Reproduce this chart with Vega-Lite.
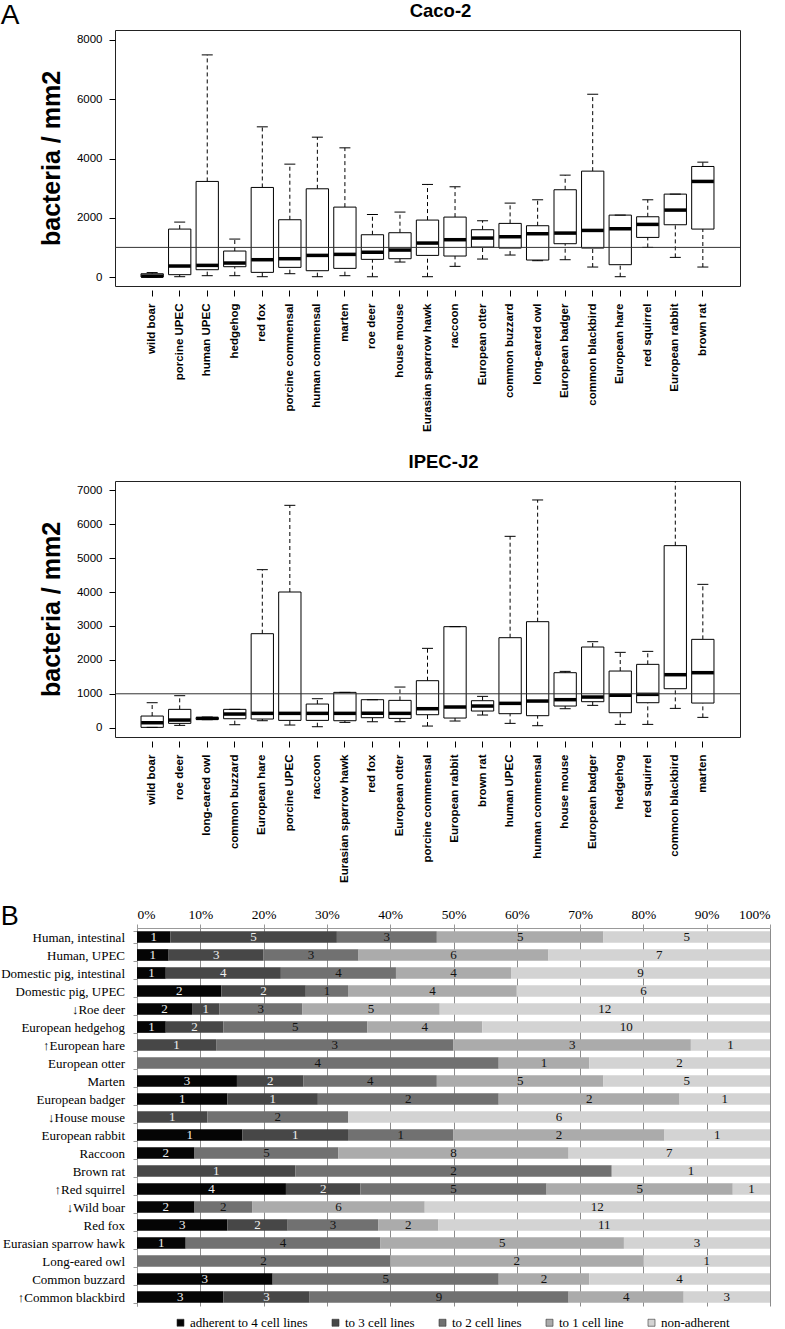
{
  "$schema": "https://vega.github.io/schema/vega-lite/v6.json",
  "padding": {"left": 0, "top": 1, "right": 0, "bottom": 0},
  "background": "white",
  "title": {"text": "A", "anchor": "start", "frame": "bounds", "fontSize": 28, "fontWeight": "normal", "offset": -29, "font": "Liberation Sans", "color": "black"},
  "datasets": {
    "caco": [
      {"g": "wild boar", "lo": 0, "q1": 0, "med": 30, "q3": 110, "hi": 150},
      {"g": "porcine UPEC", "lo": 11, "q1": 79, "med": 371, "q3": 1618, "hi": 1854},
      {"g": "human UPEC", "lo": 45, "q1": 247, "med": 393, "q3": 3226, "hi": 7497},
      {"g": "hedgehog", "lo": 45, "q1": 348, "med": 472, "q3": 877, "hi": 1281},
      {"g": "red fox", "lo": 11, "q1": 157, "med": 584, "q3": 3023, "hi": 5069},
      {"g": "porcine commensal", "lo": 112, "q1": 326, "med": 618, "q3": 1933, "hi": 3810},
      {"g": "human commensal", "lo": 11, "q1": 213, "med": 730, "q3": 2978, "hi": 4720},
      {"g": "marten", "lo": 45, "q1": 292, "med": 764, "q3": 2360, "hi": 4360},
      {"g": "roe deer", "lo": 11, "q1": 596, "med": 832, "q3": 1427, "hi": 2113},
      {"g": "house mouse", "lo": 506, "q1": 618, "med": 910, "q3": 1495, "hi": 2192},
      {"g": "Eurasian sparrow hawk", "lo": 11, "q1": 730, "med": 1146, "q3": 1922, "hi": 3125},
      {"g": "raccoon", "lo": 360, "q1": 708, "med": 1259, "q3": 2023, "hi": 3046},
      {"g": "European otter", "lo": 607, "q1": 1011, "med": 1315, "q3": 1596, "hi": 1899},
      {"g": "common buzzard", "lo": 742, "q1": 978, "med": 1360, "q3": 1810, "hi": 2495},
      {"g": "long-eared owl", "lo": 551, "q1": 573, "med": 1461, "q3": 1731, "hi": 2607},
      {"g": "European badger", "lo": 584, "q1": 1124, "med": 1483, "q3": 2945, "hi": 3439},
      {"g": "common blackbird", "lo": 337, "q1": 978, "med": 1573, "q3": 3574, "hi": 6169},
      {"g": "European hare", "lo": 11, "q1": 416, "med": 1630, "q3": 2090, "hi": 2090},
      {"g": "red squirrel", "lo": 1000, "q1": 1337, "med": 1776, "q3": 2034, "hi": 2607},
      {"g": "European rabbit", "lo": 663, "q1": 1764, "med": 2259, "q3": 2798, "hi": 2798},
      {"g": "brown rat", "lo": 337, "q1": 1618, "med": 3226, "q3": 3731, "hi": 3877}
    ],
    "ipec": [
      {"g": "wild boar", "lo": 10, "q1": 10, "med": 147, "q3": 344, "hi": 737},
      {"g": "roe deer", "lo": 69, "q1": 128, "med": 226, "q3": 541, "hi": 944},
      {"g": "long-eared owl", "lo": 236, "q1": 245, "med": 275, "q3": 300, "hi": 315},
      {"g": "common buzzard", "lo": 88, "q1": 265, "med": 403, "q3": 541, "hi": 541},
      {"g": "European hare", "lo": 206, "q1": 256, "med": 423, "q3": 2772, "hi": 4660},
      {"g": "porcine UPEC", "lo": 79, "q1": 216, "med": 423, "q3": 4001, "hi": 6557},
      {"g": "raccoon", "lo": 29, "q1": 216, "med": 423, "q3": 698, "hi": 855},
      {"g": "Eurasian sparrow hawk", "lo": 157, "q1": 206, "med": 423, "q3": 1042, "hi": 1042},
      {"g": "red fox", "lo": 177, "q1": 295, "med": 423, "q3": 826, "hi": 826},
      {"g": "European otter", "lo": 177, "q1": 275, "med": 423, "q3": 806, "hi": 1199},
      {"g": "porcine commensal", "lo": 49, "q1": 383, "med": 560, "q3": 1386, "hi": 2340},
      {"g": "European rabbit", "lo": 197, "q1": 285, "med": 610, "q3": 2979, "hi": 2979},
      {"g": "brown rat", "lo": 374, "q1": 492, "med": 639, "q3": 796, "hi": 924},
      {"g": "human UPEC", "lo": 128, "q1": 413, "med": 718, "q3": 2654, "hi": 5643},
      {"g": "human commensal", "lo": 59, "q1": 354, "med": 786, "q3": 3126, "hi": 6715},
      {"g": "house mouse", "lo": 560, "q1": 639, "med": 826, "q3": 1622, "hi": 1661},
      {"g": "European badger", "lo": 659, "q1": 767, "med": 904, "q3": 2379, "hi": 2536},
      {"g": "hedgehog", "lo": 98, "q1": 442, "med": 954, "q3": 1671, "hi": 2222},
      {"g": "red squirrel", "lo": 98, "q1": 737, "med": 983, "q3": 1868, "hi": 2251},
      {"g": "common blackbird", "lo": 570, "q1": 1150, "med": 1563, "q3": 5368, "hi": 7600},
      {"g": "marten", "lo": 305, "q1": 727, "med": 1622, "q3": 2605, "hi": 4227}
    ],
    "adh": [
      {"sp": "Human, intestinal", "c": "adherent to 4 cell lines", "k": 1, "n": 1},
      {"sp": "Human, intestinal", "c": "to 3 cell lines", "k": 2, "n": 5},
      {"sp": "Human, intestinal", "c": "to 2 cell lines", "k": 3, "n": 3},
      {"sp": "Human, intestinal", "c": "to 1 cell line", "k": 4, "n": 5},
      {"sp": "Human, intestinal", "c": "non-adherent", "k": 5, "n": 5},
      {"sp": "Human, UPEC", "c": "adherent to 4 cell lines", "k": 1, "n": 1},
      {"sp": "Human, UPEC", "c": "to 3 cell lines", "k": 2, "n": 3},
      {"sp": "Human, UPEC", "c": "to 2 cell lines", "k": 3, "n": 3},
      {"sp": "Human, UPEC", "c": "to 1 cell line", "k": 4, "n": 6},
      {"sp": "Human, UPEC", "c": "non-adherent", "k": 5, "n": 7},
      {"sp": "Domestic pig, intestinal", "c": "adherent to 4 cell lines", "k": 1, "n": 1},
      {"sp": "Domestic pig, intestinal", "c": "to 3 cell lines", "k": 2, "n": 4},
      {"sp": "Domestic pig, intestinal", "c": "to 2 cell lines", "k": 3, "n": 4},
      {"sp": "Domestic pig, intestinal", "c": "to 1 cell line", "k": 4, "n": 4},
      {"sp": "Domestic pig, intestinal", "c": "non-adherent", "k": 5, "n": 9},
      {"sp": "Domestic pig, UPEC", "c": "adherent to 4 cell lines", "k": 1, "n": 2},
      {"sp": "Domestic pig, UPEC", "c": "to 3 cell lines", "k": 2, "n": 2},
      {"sp": "Domestic pig, UPEC", "c": "to 2 cell lines", "k": 3, "n": 1},
      {"sp": "Domestic pig, UPEC", "c": "to 1 cell line", "k": 4, "n": 4},
      {"sp": "Domestic pig, UPEC", "c": "non-adherent", "k": 5, "n": 6},
      {"sp": "↓Roe deer", "c": "adherent to 4 cell lines", "k": 1, "n": 2},
      {"sp": "↓Roe deer", "c": "to 3 cell lines", "k": 2, "n": 1},
      {"sp": "↓Roe deer", "c": "to 2 cell lines", "k": 3, "n": 3},
      {"sp": "↓Roe deer", "c": "to 1 cell line", "k": 4, "n": 5},
      {"sp": "↓Roe deer", "c": "non-adherent", "k": 5, "n": 12},
      {"sp": "European hedgehog", "c": "adherent to 4 cell lines", "k": 1, "n": 1},
      {"sp": "European hedgehog", "c": "to 3 cell lines", "k": 2, "n": 2},
      {"sp": "European hedgehog", "c": "to 2 cell lines", "k": 3, "n": 5},
      {"sp": "European hedgehog", "c": "to 1 cell line", "k": 4, "n": 4},
      {"sp": "European hedgehog", "c": "non-adherent", "k": 5, "n": 10},
      {"sp": "↑European hare", "c": "to 3 cell lines", "k": 2, "n": 1},
      {"sp": "↑European hare", "c": "to 2 cell lines", "k": 3, "n": 3},
      {"sp": "↑European hare", "c": "to 1 cell line", "k": 4, "n": 3},
      {"sp": "↑European hare", "c": "non-adherent", "k": 5, "n": 1},
      {"sp": "European otter", "c": "to 2 cell lines", "k": 3, "n": 4},
      {"sp": "European otter", "c": "to 1 cell line", "k": 4, "n": 1},
      {"sp": "European otter", "c": "non-adherent", "k": 5, "n": 2},
      {"sp": "Marten", "c": "adherent to 4 cell lines", "k": 1, "n": 3},
      {"sp": "Marten", "c": "to 3 cell lines", "k": 2, "n": 2},
      {"sp": "Marten", "c": "to 2 cell lines", "k": 3, "n": 4},
      {"sp": "Marten", "c": "to 1 cell line", "k": 4, "n": 5},
      {"sp": "Marten", "c": "non-adherent", "k": 5, "n": 5},
      {"sp": "European badger", "c": "adherent to 4 cell lines", "k": 1, "n": 1},
      {"sp": "European badger", "c": "to 3 cell lines", "k": 2, "n": 1},
      {"sp": "European badger", "c": "to 2 cell lines", "k": 3, "n": 2},
      {"sp": "European badger", "c": "to 1 cell line", "k": 4, "n": 2},
      {"sp": "European badger", "c": "non-adherent", "k": 5, "n": 1},
      {"sp": "↓House mouse", "c": "to 3 cell lines", "k": 2, "n": 1},
      {"sp": "↓House mouse", "c": "to 2 cell lines", "k": 3, "n": 2},
      {"sp": "↓House mouse", "c": "non-adherent", "k": 5, "n": 6},
      {"sp": "European rabbit", "c": "adherent to 4 cell lines", "k": 1, "n": 1},
      {"sp": "European rabbit", "c": "to 3 cell lines", "k": 2, "n": 1},
      {"sp": "European rabbit", "c": "to 2 cell lines", "k": 3, "n": 1},
      {"sp": "European rabbit", "c": "to 1 cell line", "k": 4, "n": 2},
      {"sp": "European rabbit", "c": "non-adherent", "k": 5, "n": 1},
      {"sp": "Raccoon", "c": "adherent to 4 cell lines", "k": 1, "n": 2},
      {"sp": "Raccoon", "c": "to 2 cell lines", "k": 3, "n": 5},
      {"sp": "Raccoon", "c": "to 1 cell line", "k": 4, "n": 8},
      {"sp": "Raccoon", "c": "non-adherent", "k": 5, "n": 7},
      {"sp": "Brown rat", "c": "to 3 cell lines", "k": 2, "n": 1},
      {"sp": "Brown rat", "c": "to 2 cell lines", "k": 3, "n": 2},
      {"sp": "Brown rat", "c": "non-adherent", "k": 5, "n": 1},
      {"sp": "↑Red squirrel", "c": "adherent to 4 cell lines", "k": 1, "n": 4},
      {"sp": "↑Red squirrel", "c": "to 3 cell lines", "k": 2, "n": 2},
      {"sp": "↑Red squirrel", "c": "to 2 cell lines", "k": 3, "n": 5},
      {"sp": "↑Red squirrel", "c": "to 1 cell line", "k": 4, "n": 5},
      {"sp": "↑Red squirrel", "c": "non-adherent", "k": 5, "n": 1},
      {"sp": "↓Wild boar", "c": "adherent to 4 cell lines", "k": 1, "n": 2},
      {"sp": "↓Wild boar", "c": "to 2 cell lines", "k": 3, "n": 2},
      {"sp": "↓Wild boar", "c": "to 1 cell line", "k": 4, "n": 6},
      {"sp": "↓Wild boar", "c": "non-adherent", "k": 5, "n": 12},
      {"sp": "Red fox", "c": "adherent to 4 cell lines", "k": 1, "n": 3},
      {"sp": "Red fox", "c": "to 3 cell lines", "k": 2, "n": 2},
      {"sp": "Red fox", "c": "to 2 cell lines", "k": 3, "n": 3},
      {"sp": "Red fox", "c": "to 1 cell line", "k": 4, "n": 2},
      {"sp": "Red fox", "c": "non-adherent", "k": 5, "n": 11},
      {"sp": "Eurasian sparrow hawk", "c": "adherent to 4 cell lines", "k": 1, "n": 1},
      {"sp": "Eurasian sparrow hawk", "c": "to 2 cell lines", "k": 3, "n": 4},
      {"sp": "Eurasian sparrow hawk", "c": "to 1 cell line", "k": 4, "n": 5},
      {"sp": "Eurasian sparrow hawk", "c": "non-adherent", "k": 5, "n": 3},
      {"sp": "Long-eared owl", "c": "to 2 cell lines", "k": 3, "n": 2},
      {"sp": "Long-eared owl", "c": "to 1 cell line", "k": 4, "n": 2},
      {"sp": "Long-eared owl", "c": "non-adherent", "k": 5, "n": 1},
      {"sp": "Common buzzard", "c": "adherent to 4 cell lines", "k": 1, "n": 3},
      {"sp": "Common buzzard", "c": "to 2 cell lines", "k": 3, "n": 5},
      {"sp": "Common buzzard", "c": "to 1 cell line", "k": 4, "n": 2},
      {"sp": "Common buzzard", "c": "non-adherent", "k": 5, "n": 4},
      {"sp": "↑Common blackbird", "c": "adherent to 4 cell lines", "k": 1, "n": 3},
      {"sp": "↑Common blackbird", "c": "to 3 cell lines", "k": 2, "n": 3},
      {"sp": "↑Common blackbird", "c": "to 2 cell lines", "k": 3, "n": 9},
      {"sp": "↑Common blackbird", "c": "to 1 cell line", "k": 4, "n": 4},
      {"sp": "↑Common blackbird", "c": "non-adherent", "k": 5, "n": 3}
    ]
  },
  "spacing": 20,
  "resolve": {"scale": {"color": "independent"}},
  "vconcat": [
    {
      "width": 625,
      "height": 256,
      "title": {"text": "Caco-2", "fontSize": 18.5, "font": "Liberation Sans", "fontWeight": "bold", "offset": 10, "dx": 13, "color": "black"},
      "view": {"stroke": "#222", "strokeWidth": 1},
      "data": {"name": "caco"},
      "layer": [
        {
          "mark": {"type": "rule", "strokeDash": [4, 3], "color": "black", "strokeWidth": 1},
          "encoding": {
            "x": {"field": "g", "type": "nominal", "sort": null, "title": null, "scale": {"paddingInner": 0.19, "paddingOuter": 0.945},
              "axis": {"labelAngle": 270, "labelFont": "Liberation Sans", "labelFontWeight": "bold", "labelFontSize": 11.5, "labelColor": "black", "tickColor": "black", "tickSize": 6, "offset": 4, "domain": false, "labelPadding": 7}},
            "y": {"field": "q3", "type": "quantitative", "title": "bacteria / mm2", "scale": {"domain": [-303, 8337], "nice": false, "zero": false},
              "axis": {"values": [0, 2000, 4000, 6000, 8000], "format": "d", "labelOverlap": false, "grid": false, "domain": false, "tickSize": 6, "tickColor": "black", "labelPadding": 7, "labelFontSize": 11.5, "labelColor": "black", "labelFont": "Liberation Sans", "titleFont": "Liberation Sans", "titleFontSize": 25, "titleFontWeight": "bold", "titleColor": "black", "titlePadding": 12}},
            "y2": {"field": "hi"}
          }
        },
        {
          "mark": {"type": "rule", "strokeDash": [4, 3], "color": "black", "strokeWidth": 1},
          "encoding": {
            "x": {"field": "g", "type": "nominal", "sort": null, "title": null},
            "y": {"field": "lo", "type": "quantitative", "title": "bacteria / mm2"},
            "y2": {"field": "q1"}
          }
        },
        {
          "mark": {"type": "bar", "fill": "white", "stroke": "black", "strokeWidth": 1, "opacity": 1},
          "encoding": {
            "x": {"field": "g", "type": "nominal", "sort": null, "title": null},
            "y": {"field": "q1", "type": "quantitative", "title": "bacteria / mm2"},
            "y2": {"field": "q3"}
          }
        },
        {
          "mark": {"type": "tick", "orient": "horizontal", "color": "black", "opacity": 1, "size": 22, "thickness": 3.5},
          "encoding": {
            "x": {"field": "g", "type": "nominal", "sort": null, "title": null},
            "y": {"field": "med", "type": "quantitative", "title": "bacteria / mm2"}
          }
        },
        {
          "mark": {"type": "tick", "orient": "horizontal", "color": "black", "opacity": 1, "size": 11, "thickness": 1},
          "encoding": {
            "x": {"field": "g", "type": "nominal", "sort": null, "title": null},
            "y": {"field": "hi", "type": "quantitative", "title": "bacteria / mm2"}
          }
        },
        {
          "mark": {"type": "tick", "orient": "horizontal", "color": "black", "opacity": 1, "size": 11, "thickness": 1},
          "encoding": {
            "x": {"field": "g", "type": "nominal", "sort": null, "title": null},
            "y": {"field": "lo", "type": "quantitative", "title": "bacteria / mm2"}
          }
        },
        {
          "data": {"values": [{"ref": 1000}]},
          "mark": {"type": "rule", "color": "#333", "strokeWidth": 1},
          "encoding": {
            "y": {"field": "ref", "type": "quantitative", "title": "bacteria / mm2"}
          }
        }
      ]
    },
    {
      "width": 625,
      "height": 256,
      "title": {"text": "IPEC-J2", "fontSize": 18.5, "font": "Liberation Sans", "fontWeight": "bold", "offset": 10, "dx": 16, "color": "black"},
      "view": {"stroke": "#222", "strokeWidth": 1},
      "data": {"name": "ipec"},
      "layer": [
        {
          "mark": {"type": "rule", "strokeDash": [4, 3], "color": "black", "strokeWidth": 1, "clip": true},
          "encoding": {
            "x": {"field": "g", "type": "nominal", "sort": null, "title": null, "scale": {"paddingInner": 0.19, "paddingOuter": 0.945},
              "axis": {"labelAngle": 270, "labelFont": "Liberation Sans", "labelFontWeight": "bold", "labelFontSize": 11.5, "labelColor": "black", "tickColor": "black", "tickSize": 6, "offset": 4, "domain": false, "labelPadding": 7}},
            "y": {"field": "q3", "type": "quantitative", "title": "bacteria / mm2", "scale": {"domain": [-274, 7274], "nice": false, "zero": false},
              "axis": {"values": [0, 1000, 2000, 3000, 4000, 5000, 6000, 7000], "tickCount": 8, "format": "d", "labelOverlap": false, "grid": false, "domain": false, "tickSize": 6, "tickColor": "black", "labelPadding": 7, "labelFontSize": 11.5, "labelColor": "black", "labelFont": "Liberation Sans", "titleFont": "Liberation Sans", "titleFontSize": 25, "titleFontWeight": "bold", "titleColor": "black", "titlePadding": 12}},
            "y2": {"field": "hi"}
          }
        },
        {
          "mark": {"type": "rule", "strokeDash": [4, 3], "color": "black", "strokeWidth": 1},
          "encoding": {
            "x": {"field": "g", "type": "nominal", "sort": null, "title": null},
            "y": {"field": "lo", "type": "quantitative", "title": "bacteria / mm2", "axis": {"values": [0, 1000, 2000, 3000, 4000, 5000, 6000, 7000], "tickCount": 8, "format": "d", "labelOverlap": false}},
            "y2": {"field": "q1"}
          }
        },
        {
          "mark": {"type": "bar", "fill": "white", "stroke": "black", "strokeWidth": 1, "opacity": 1},
          "encoding": {
            "x": {"field": "g", "type": "nominal", "sort": null, "title": null},
            "y": {"field": "q1", "type": "quantitative", "title": "bacteria / mm2", "axis": {"values": [0, 1000, 2000, 3000, 4000, 5000, 6000, 7000], "tickCount": 8, "format": "d", "labelOverlap": false}},
            "y2": {"field": "q3"}
          }
        },
        {
          "mark": {"type": "tick", "orient": "horizontal", "color": "black", "opacity": 1, "size": 22, "thickness": 3.5},
          "encoding": {
            "x": {"field": "g", "type": "nominal", "sort": null, "title": null},
            "y": {"field": "med", "type": "quantitative", "title": "bacteria / mm2", "axis": {"values": [0, 1000, 2000, 3000, 4000, 5000, 6000, 7000], "tickCount": 8, "format": "d", "labelOverlap": false}}
          }
        },
        {
          "mark": {"type": "tick", "orient": "horizontal", "color": "black", "opacity": 1, "size": 11, "thickness": 1, "clip": true},
          "encoding": {
            "x": {"field": "g", "type": "nominal", "sort": null, "title": null},
            "y": {"field": "hi", "type": "quantitative", "title": "bacteria / mm2", "axis": {"values": [0, 1000, 2000, 3000, 4000, 5000, 6000, 7000], "tickCount": 8, "format": "d", "labelOverlap": false}}
          }
        },
        {
          "mark": {"type": "tick", "orient": "horizontal", "color": "black", "opacity": 1, "size": 11, "thickness": 1},
          "encoding": {
            "x": {"field": "g", "type": "nominal", "sort": null, "title": null},
            "y": {"field": "lo", "type": "quantitative", "title": "bacteria / mm2", "axis": {"values": [0, 1000, 2000, 3000, 4000, 5000, 6000, 7000], "tickCount": 8, "format": "d", "labelOverlap": false}}
          }
        },
        {
          "data": {"values": [{"ref": 1000}]},
          "mark": {"type": "rule", "color": "#333", "strokeWidth": 1},
          "encoding": {
            "y": {"field": "ref", "type": "quantitative", "title": "bacteria / mm2", "axis": {"values": [0, 1000, 2000, 3000, 4000, 5000, 6000, 7000], "tickCount": 8, "format": "d", "labelOverlap": false}}
          }
        }
      ]
    },
    {
      "width": 655,
      "height": 378,
      "title": {"text": "B", "anchor": "start", "frame": "bounds", "fontSize": 27, "fontWeight": "normal", "offset": -24, "font": "Liberation Sans", "color": "black"},
      "data": {"name": "adh"},
      "encoding": {
        "y": {"field": "sp", "type": "nominal", "sort": null, "title": null, "scale": {"paddingInner": 0.35, "paddingOuter": 0.175},
          "axis": {"offset": -22, "tickBand": "extent", "tickSize": 4, "labelPadding": 8.5, "labelFont": "Liberation Serif", "labelFontSize": 13, "labelColor": "black", "domainColor": "#999", "tickColor": "#999"}},
        "order": {"field": "k", "type": "quantitative"}
      },
      "layer": [
        {
          "mark": {"type": "bar", "opacity": 1},
          "encoding": {
            "x": {"field": "n", "type": "quantitative", "stack": "normalize", "title": null, "scale": {"domain": [0, 1], "range": [22, 655], "nice": false},
              "axis": {"orient": "top", "values": [0, 0.1, 0.2, 0.3, 0.4, 0.5, 0.6, 0.7, 0.8, 0.9, 1], "format": ".0%", "grid": true, "gridColor": "#8c8c8c", "gridOpacity": 1, "domainColor": "#999", "tickColor": "#999", "tickSize": 4, "labelPadding": 3, "labelFont": "Liberation Serif", "labelFontSize": 13.5, "labelColor": "black"}},
            "color": {"field": "c", "type": "nominal", "title": null,
              "scale": {"domain": ["adherent to 4 cell lines", "to 3 cell lines", "to 2 cell lines", "to 1 cell line", "non-adherent"], "range": ["#050505", "#474747", "#717171", "#ababab", "#d3d3d3"]},
              "legend": {"orient": "none", "legendX": 59, "legendY": 388, "padding": 0, "direction": "horizontal", "title": null, "symbolType": "square", "symbolSize": 49, "symbolStrokeColor": "#333", "symbolStrokeWidth": 0.6, "symbolOpacity": 1, "labelFont": "Liberation Serif", "labelFontSize": 13, "labelColor": "black", "columnPadding": 21, "labelOffset": 3}}
          }
        },
        {
          "mark": {"type": "text", "font": "Liberation Serif", "fontSize": 13},
          "encoding": {
            "x": {"field": "n", "type": "quantitative", "stack": "normalize", "bandPosition": 0.5, "title": null},
            "detail": {"field": "c"},
            "text": {"field": "n", "type": "quantitative"},
            "fill": {"condition": {"test": "datum.k <= 2", "value": "#f0f0f0"}, "value": "#111"}
          }
        }
      ]
    }
  ],
  "config": {
    "view": {"stroke": null},
    "font": "Liberation Sans"
  }
}
